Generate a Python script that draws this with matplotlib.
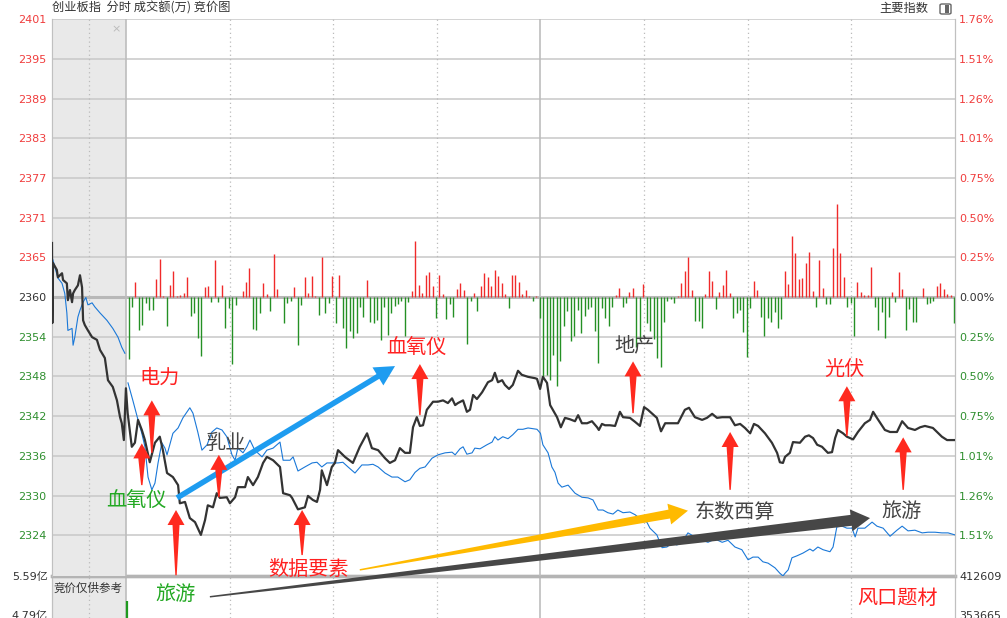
import numpy as np
import matplotlib.pyplot as plt
from matplotlib.patches import Polygon, FancyBboxPatch

plt.rcParams['font.family'] = ['Noto Sans CJK SC', 'DejaVu Sans']

prev_close = 2359.75
grid_step = 5.9

# 竞价阶段 (负数分钟) 指数
auc_t = [-21.4, -21.3, -21.1, -20.0, -19.7, -18.5, -18.2, -17.1, -16.8, -16.2,
         -15.6, -15.3, -14.8, -13.9, -13.3, -12.7, -12.4, -11.9, -11.0, -9.8,
         -8.4, -7.5, -6.1, -5.2, -3.8, -2.6, -1.7, -1.2, -0.6]
auc_price = [2367.8, 2355.9, 2364.8, 2363.8, 2362.7, 2363.3, 2362.3, 2361.8, 2359.3, 2360.8,
             2359.0, 2360.3, 2360.8, 2361.5, 2363.0, 2361.2, 2356.3, 2355.6, 2354.8, 2353.8,
             2353.4, 2351.9, 2350.7, 2347.4, 2346.4, 2344.4, 2341.9, 2341.0, 2338.5]
auc_lead_t = [-21.4, -21.1, -19.7, -18.5, -17.7, -17.1, -16.8, -15.6, -15.3, -14.8,
              -13.9, -13.3, -12.4, -11.6, -11.0, -9.8, -9.0, -7.5, -5.5, -3.8,
              -2.3, -1.2, -0.3]
auc_lead = [2365.7, 2365.2, 2362.6, 2361.8, 2360.3, 2357.4, 2354.8, 2355.1, 2352.6, 2353.8,
            2356.8, 2357.8, 2359.0, 2359.7, 2358.6, 2358.9, 2358.3, 2357.4, 2356.3, 2355.1,
            2353.8, 2352.3, 2351.4]

# 连续交易 (9:30 起分钟数) 创业板指
price_t = [0, 0.5, 1.7, 2.6, 3.5, 4.6, 5.5, 6.9, 8.4, 9.8,
           10.7, 11.9, 13.6, 15.1, 15.6, 17.1, 18.5, 20.0, 21.7, 22.9,
           23.7, 25.2, 26.3, 27.2, 29.2, 30.1, 31.6, 32.4, 34.5, 35.3,
           36.8, 38.2, 39.7, 40.8, 42.6, 44.6, 45.5, 47.5, 48.1, 49.8,
           51.8, 52.7, 54.1, 55.3, 56.2, 56.7, 58.2, 59.6, 60.5, 61.4,
           63.4, 65.7, 67.7, 69.8, 71.2, 73.0, 75.0, 76.4, 77.9, 79.3,
           80.8, 82.2, 83.1, 84.2, 85.1, 86.0, 87.1, 88.9, 90.3, 91.8,
           93.2, 94.4, 95.3, 96.1, 97.6, 98.7, 99.6, 100.5, 101.6, 103.1,
           104.8, 106.0, 106.8, 107.7, 108.9, 109.7, 110.9, 112.0, 113.5, 114.6,
           116.4, 118.4, 119.0, 119.9, 120.7, 121.9, 122.8, 124.8, 125.9, 127.1,
           128.5, 130.0, 130.9, 132.0, 133.5, 134.9, 136.4, 136.9, 137.8, 138.7,
           140.1, 141.6, 143.0, 143.9, 145.9, 147.4, 148.8, 150.0, 151.1, 153.7,
           154.9, 156.1, 158.1, 159.8, 161.8, 163.0, 164.7, 166.8, 168.2, 169.7,
           171.1, 172.6, 174.9, 176.3, 177.8, 179.2, 180.7, 181.8, 183.0, 185.0,
           187.0, 188.5, 189.3, 190.2, 190.8, 192.2, 193.1, 195.1, 196.6, 197.7,
           198.9, 200.1, 201.5, 203.2, 204.4, 205.3, 206.1, 207.6, 208.7, 210.5,
           211.9, 213.9, 215.4, 216.3, 217.4, 219.7, 221.2, 223.2, 224.7, 226.4,
           228.4, 229.9, 231.3, 233.6, 236.2, 237.7, 240]
price = [2346.2, 2342.5, 2337.5, 2338.1, 2341.5, 2340.0, 2338.5, 2335.2, 2338.1, 2339.0,
         2337.0, 2333.6, 2333.0, 2331.8, 2329.1, 2329.3, 2326.9, 2326.3, 2324.4, 2326.6,
         2328.8, 2328.5, 2330.6, 2329.9, 2330.0, 2329.1, 2330.0, 2331.5, 2331.5, 2333.0,
         2331.8, 2333.0, 2335.1, 2336.0, 2335.5, 2334.5, 2330.6, 2330.3, 2329.9, 2328.2,
         2328.5, 2330.2, 2329.6, 2329.3, 2331.1, 2334.0, 2331.8, 2334.5, 2335.1, 2337.0,
         2336.0, 2335.1, 2337.5, 2339.5, 2337.3, 2337.0, 2335.8, 2335.1, 2335.5, 2337.3,
         2336.6, 2336.6, 2340.4, 2341.9, 2340.6, 2340.7, 2343.0, 2344.2, 2344.2, 2344.4,
         2344.0, 2344.7, 2343.7, 2344.0, 2344.4, 2342.7, 2343.0, 2345.2, 2344.6, 2345.6,
         2347.1, 2347.4, 2348.5, 2347.1, 2347.4, 2346.7, 2346.1, 2346.7, 2348.8, 2348.2,
         2347.9, 2347.7, 2347.6, 2346.1, 2347.9, 2347.0, 2343.7, 2341.9, 2340.4, 2341.8,
         2341.6, 2341.3, 2342.2, 2341.0, 2341.0, 2341.3, 2340.4, 2340.0, 2340.9, 2340.7,
         2340.7, 2340.6, 2342.7, 2341.9, 2341.8, 2341.2, 2340.6, 2343.4, 2343.0, 2341.8,
         2339.8, 2341.0, 2341.0, 2341.0, 2343.0, 2343.3, 2341.9, 2341.5, 2341.8, 2342.4,
         2341.8, 2341.9, 2341.9, 2340.7, 2340.9, 2340.3, 2339.5, 2340.9, 2340.6, 2339.5,
         2338.1, 2336.6, 2335.2, 2335.1, 2336.0, 2336.6, 2338.2, 2338.1, 2339.0, 2339.2,
         2338.8, 2337.8, 2337.5, 2336.6, 2336.7, 2338.8, 2340.0, 2339.5, 2339.0, 2338.6,
         2339.7, 2341.0, 2341.5, 2342.7, 2341.8, 2340.0, 2339.7, 2339.7, 2341.3, 2340.3,
         2340.0, 2340.4, 2340.6, 2340.3, 2339.0, 2338.5, 2338.5]

# 蓝色领先线
lead_t = [0.6, 2.0, 3.5, 4.6, 5.5, 6.4, 7.5, 8.4, 9.3, 10.4,
          11.3, 11.9, 12.7, 13.6, 15.1, 16.5, 18.5, 19.4, 20.8, 22.0,
          23.5, 24.9, 26.3, 27.8, 29.2, 30.7, 31.6, 32.4, 33.9, 35.0,
          35.9, 37.3, 39.4, 40.8, 42.6, 44.6, 45.5, 47.5, 48.4, 49.8,
          51.8, 53.9, 55.3, 56.7, 58.2, 59.9, 61.4, 62.8, 64.3, 66.3,
          68.3, 70.1, 71.5, 73.0, 75.0, 77.0, 78.7, 80.8, 82.2, 83.7,
          85.1, 86.6, 88.6, 90.3, 92.4, 94.4, 95.3, 96.7, 97.6, 98.7,
          100.2, 101.0, 102.5, 104.5, 106.0, 106.8, 107.7, 109.1, 110.6, 112.0,
          113.5, 114.9, 116.4, 119.0, 120.0, 120.7, 122.2, 123.3, 124.2, 125.1,
          126.2, 128.0, 130.0, 132.0, 133.8, 135.2, 136.7, 138.1, 139.5, 141.0,
          142.4, 143.9, 145.9, 147.4, 149.4, 150.8, 151.7, 153.7, 155.2, 156.6,
          158.1, 159.5, 161.3, 162.7, 164.7, 166.8, 168.5, 170.5, 172.6, 174.3,
          176.3, 178.3, 180.1, 181.5, 183.0, 184.4, 185.9, 187.9, 189.3, 190.2,
          190.8, 191.7, 192.8, 194.3, 196.0, 198.0, 198.9, 200.3, 201.8, 203.8,
          204.7, 205.8, 207.3, 208.7, 210.2, 211.1, 211.9, 213.9, 216.0, 217.4,
          219.2, 221.2, 223.2, 224.7, 226.4, 228.4, 230.5, 232.2, 234.2, 236.2,
          238.0, 240]
lead = [2347.0, 2344.4, 2341.5, 2339.5, 2337.5, 2333.0, 2331.1, 2332.1, 2335.1, 2338.1,
        2337.3, 2336.3, 2337.8, 2339.5, 2340.3, 2341.8, 2343.3, 2342.5, 2339.7, 2337.0,
        2337.8, 2339.7, 2340.3, 2340.0, 2339.0, 2336.3, 2335.5, 2337.3, 2336.6, 2337.5,
        2338.5, 2337.0, 2336.0, 2337.0, 2337.3, 2338.2, 2335.5, 2335.5, 2336.0, 2333.9,
        2334.5, 2335.1, 2335.2, 2334.5, 2335.1, 2335.1, 2335.1, 2335.2, 2334.5, 2333.6,
        2334.8, 2334.8, 2334.9, 2334.5, 2333.6, 2333.0, 2333.0, 2332.3, 2332.6, 2333.7,
        2334.3, 2334.5, 2335.8, 2336.3, 2336.6, 2336.7, 2336.3, 2337.2, 2337.5, 2336.4,
        2336.6, 2337.3, 2337.2, 2337.8, 2338.2, 2339.0, 2338.5, 2339.0, 2338.7, 2339.3,
        2340.1, 2340.1, 2340.3, 2340.1, 2339.5, 2337.8, 2336.6, 2334.5, 2333.7, 2332.1,
        2331.5, 2331.8, 2330.6, 2330.0, 2329.9, 2329.6, 2328.1, 2328.1, 2327.7, 2327.5,
        2328.1, 2327.7, 2327.8, 2327.4, 2326.6, 2326.3, 2325.4, 2324.4, 2322.5, 2322.6,
        2323.2, 2322.9, 2323.6, 2324.7, 2324.1, 2323.6, 2323.3, 2323.8, 2323.3, 2323.6,
        2322.6, 2322.2, 2320.7, 2321.1, 2321.1, 2320.4, 2320.2, 2319.5, 2318.7, 2318.3,
        2318.7, 2319.2, 2321.0, 2321.3, 2321.7, 2322.3, 2322.0, 2322.6, 2322.2, 2321.9,
        2322.6, 2325.6, 2325.7, 2325.4, 2325.4, 2324.1, 2325.4, 2325.4, 2326.3, 2325.7,
        2325.4, 2324.2, 2325.1, 2325.7, 2325.0, 2325.1, 2324.7, 2324.8, 2324.8, 2324.7,
        2324.7, 2324.4]

# 每分钟红绿柱
flow = [-62, -10, 15, -33, -28, -6, -13, -13, 18, 38, 1, -29, 12, 26, 1, 2, 4, 20, -19, -16,
        -41, -59, 10, 11, -5, 37, -5, 12, -31, -11, -67, -8, 0, 6, 15, 29, -32, -33, -16, 14,
        3, -14, 43, 8, 0, -26, -6, -4, 10, -48, -8, 20, 4, 21, 1, -18, 40, -16, -6, 21,
        -26, 22, -31, -51, -34, -41, -36, -10, -20, 17, -25, -26, -23, -43, -10, -38, -16, -9, -7, -4,
        -39, -5, 6, 56, 12, 4, 22, 25, 11, -21, 22, 3, -22, -7, -20, 8, 14, 7, -47, -4,
        4, -14, 11, 24, 20, 11, 27, 21, 14, 3, -11, 22, 22, 15, 3, 7, 1, -4, 1, -21,
        -80, -78, -83, -58, -89, -64, -29, -14, -44, -39, -13, -36, -19, -12, -10, -34, -66, -11, -21, -29,
        -10, 2, 9, -10, -6, 5, 9, -50, -43, 13, -26, -34, -42, -61, -70, -25, -4, -2, -6, 1,
        14, 26, 40, 7, -24, -24, -31, 3, 26, 16, -12, 5, 12, 27, 4, -21, -16, -13, -35, -60,
        -11, 16, 7, -20, -39, -21, -25, -15, -31, -22, 26, 13, 61, 44, 18, 19, 34, 45, 6, -10,
        37, 9, -7, -7, 49, 93, 44, 20, -10, -6, -39, 15, 5, 2, 2, 30, -10, -33, -15, -41,
        -20, 5, -5, 25, 8, -33, -12, -25, -25, 0, 9, -7, -6, -4, 11, 14, 8, 3, 2, -26]
flow_scale = 0.1486

left_labels = ['2324', '2330', '2336', '2342', '2348', '2354', '2360',
               '2365', '2371', '2377', '2383', '2389', '2395', '2401']
right_labels = ['1.51%', '1.26%', '1.01%', '0.75%', '0.50%', '0.25%', '0.00%',
                '0.25%', '0.50%', '0.75%', '1.01%', '1.26%', '1.51%', '1.76%']
vol_ticks = [5.59, 4.79]
vol_left = ['5.59亿', '4.79亿']
vol_right = ['412609', '353665']
open_vol = 5.08

# 题材标注: 文字, 分钟, 点位, 颜色
themes = [('电力', 9.8, 2347.7, '#ff2020'), ('乳业', 28.7, 2338.0, '#444444'),
          ('血氧仪', 2.9, 2329.6, '#22a822'), ('旅游', 14.5, 2315.5, '#22a822'),
          ('数据要素', 52.7, 2319.3, '#ff2020'), ('血氧仪', 84.0, 2352.2, '#ff2020'),
          ('地产', 147.1, 2352.5, '#444444'), ('光伏', 207.9, 2349.0, '#ff2020'),
          ('东数西算', 176.3, 2327.8, '#444444'), ('旅游', 224.4, 2327.9, '#444444'),
          ('风口题材', 223.2, 2315.0, '#ff2020')]
# 红色箭头: 分钟, 箭头顶, 箭尾
up_arrows = [(7.5, 2344.4, 2336.6), (4.6, 2338.0, 2331.8), (14.5, 2328.1, 2318.4),
             (26.9, 2336.3, 2330.0), (51.0, 2328.1, 2321.4), (85.1, 2349.8, 2342.2),
             (146.8, 2350.2, 2342.5), (174.9, 2339.7, 2331.1), (208.7, 2346.5, 2339.1),
             (225.0, 2338.9, 2331.1)]

C_RED, C_GREEN, C_GRID = '#f03c3c', '#2f8f2f', '#c8c8c8'


def px_poly(ax, pts, **kw):
    data = ax.transData.inverted().transform(np.asarray(pts))
    ax.add_patch(Polygon(data, closed=True, clip_on=False, **kw))


def up_arrow(ax, t, top, bottom, color='#ff2a1f'):
    (x, y1), (_, y0) = ax.transData.transform([(t, top), (t, bottom)])
    pts = [(x, y1), (x + 8.5, y1 - 15), (x + 3.5, y1 - 15), (x + 0.7, y0),
           (x - 0.7, y0), (x - 3.5, y1 - 15), (x - 8.5, y1 - 15)]
    px_poly(ax, pts, fc=color, ec='none', zorder=6)


def wedge_arrow(ax, start, end, w0, w1, hw, hl, color):
    p0, p1 = ax.transData.transform([start, end])
    u = (p1 - p0) / np.hypot(*(p1 - p0))
    n = np.array([-u[1], u[0]])
    b = p1 - u * hl
    pts = [p0 + n * w0 / 2, b + n * w1 / 2, b + n * hw / 2, p1,
           b - n * hw / 2, b - n * w1 / 2, p0 - n * w0 / 2]
    px_poly(ax, pts, fc=color, ec='none', zorder=5)


fig = plt.figure(figsize=(10.07, 6.18), dpi=100)
L, R = 52 / 1007, 955 / 1007
xlim = (-21.4, 240)
dotted_t = [-10.7, 30, 60, 90, 150, 180, 210]
solid_t = [0, 120]

# 底部成交额面板 (先画, 让主图的标注盖在上面)
axv = fig.add_axes([L, 0, R - L, 42 / 618])
axv.set_xlim(xlim)
axv.set_ylim(4.73, 5.59)
axv.axvspan(xlim[0], 0, color='#e9e9e9', lw=0)
for t in dotted_t:
    axv.axvline(t, color='#bbbbbb', lw=0.9, ls=(0, (1, 2.5)))
for t in solid_t:
    axv.axvline(t, color='#bdbdbd', lw=1.2)
axv.vlines(0.3, 4.73, open_vol, color='#1f9a1f', lw=1.6)
axv.text(-21.1, 5.34, '竞价仅供参考', fontsize=8.3, color='#333333', va='center')
axv.set_xticks([])
axv.set_yticks(vol_ticks)
axv.set_yticklabels(vol_left, family=['DejaVu Sans', 'Noto Sans CJK SC'], fontsize=8, color='#333333')
axv.tick_params(axis='y', length=0, pad=3)
axvr = axv.twinx()
axvr.set_ylim(axv.get_ylim())
axvr.set_yticks(vol_ticks)
axvr.set_yticklabels(vol_right, family='DejaVu Sans', fontsize=8, color='#333333')
axvr.tick_params(axis='y', length=0, pad=3)
for a in (axv, axvr):
    a.spines['top'].set_color('#b4b4b4')
    a.spines['top'].set_linewidth(2.4)
    a.spines['bottom'].set_visible(False)
    a.spines['left'].set_color('#c0c0c0')
    a.spines['right'].set_color('#c0c0c0')

# 主图
ax = fig.add_axes([L, 1 - 576 / 618, R - L, (576 - 19) / 618])
ax.set_xlim(xlim)
ax.set_ylim(2318.29, 2401.1)
ticks = prev_close + grid_step * np.arange(-6, 8)
ax.axvspan(xlim[0], 0, color='#e9e9e9', lw=0, zorder=0)
for y in ticks:
    ax.axhline(y, color=C_GRID, lw=1.1, zorder=1)
ax.axhline(prev_close, color='#b8b8b8', lw=2.2, zorder=1)
for t in dotted_t:
    ax.axvline(t, color='#bbbbbb', lw=0.9, ls=(0, (1, 2.5)), zorder=1)
for t in solid_t:
    ax.axvline(t, color='#bdbdbd', lw=1.2, zorder=1)

bar_t = np.arange(len(flow)) + 0.75
flow_arr = np.array(flow)
ax.vlines(bar_t, prev_close, prev_close + flow_arr * flow_scale,
          colors=np.where(flow_arr >= 0, '#f02a2a', '#249024'), lw=1.0, zorder=2)

ax.plot(auc_lead_t, auc_lead, color='#1a78d8', lw=0.8, zorder=3)
ax.plot(lead_t, lead, color='#1a78d8', lw=0.8, zorder=3)
ax.plot(auc_t + price_t, auc_price + price, color='#333333', lw=1.6, zorder=4)

ax.set_xticks([])
ax.set_yticks(ticks)
ax.set_yticklabels(left_labels, family='DejaVu Sans', fontsize=8)
ax.tick_params(axis='y', length=0, pad=4)
axr = ax.twinx()
axr.set_ylim(ax.get_ylim())
axr.set_yticks(ticks)
axr.set_yticklabels(right_labels, family='DejaVu Sans', fontsize=8)
axr.tick_params(axis='y', length=0, pad=3)
for a in (ax, axr):
    for lbl, y in zip(a.get_yticklabels(), ticks):
        lbl.set_color(C_RED if y > prev_close + 1 else (C_GREEN if y < prev_close - 1 else '#333333'))
    for s in ('top', 'bottom'):
        a.spines[s].set_visible(False)
    a.spines['left'].set_color('#c0c0c0')
    a.spines['right'].set_color('#c0c0c0')
ax.set_zorder(2)
axr.set_zorder(1)
ax.patch.set_alpha(0)

# 大箭头
wedge_arrow(ax, (14.8, 2329.9), (77.9, 2349.5), 5.5, 5.5, 21, 20, '#1e9cf0')
wedge_arrow(ax, (67.7, 2319.2), (162.7, 2328.0), 1.5, 9, 21, 19, '#ffba00')
wedge_arrow(ax, (24.3, 2315.2), (215.4, 2326.9), 1.5, 11, 22, 19, '#474747')

for t, top, bottom in up_arrows:
    up_arrow(ax, t, top, bottom)

for s, t, p, c in themes:
    ax.text(t, p, s, fontsize=14.5, color=c, ha='center', va='center', zorder=7, clip_on=False)

# 标题栏
fig.text(52 / 1007, 1 - 8 / 618, '创业板指  分时 成交额(万) 竞价图', fontsize=8.8,
         color='#333333', va='center')
fig.text(928 / 1007, 1 - 8 / 618, '主要指数', fontsize=8.8, color='#333333', va='center', ha='right')
fig.patches.append(FancyBboxPatch((940 / 1007, 1 - 14 / 618), 11 / 1007, 10 / 618,
                                  boxstyle='round,pad=0,rounding_size=0.002', fc='white',
                                  ec='#666666', lw=1.0, transform=fig.transFigure, figure=fig))
fig.patches.append(plt.Rectangle((945 / 1007, 1 - 12.5 / 618), 4 / 1007, 7 / 618, fc='#666666',
                                 ec='none', transform=fig.transFigure, figure=fig))
fig.text(116 / 1007, 1 - 29 / 618, '×', fontsize=8, color='#bbbbbb', ha='center', va='center',
         family='DejaVu Sans')

fig.savefig('out.png', dpi=100, facecolor='white')
